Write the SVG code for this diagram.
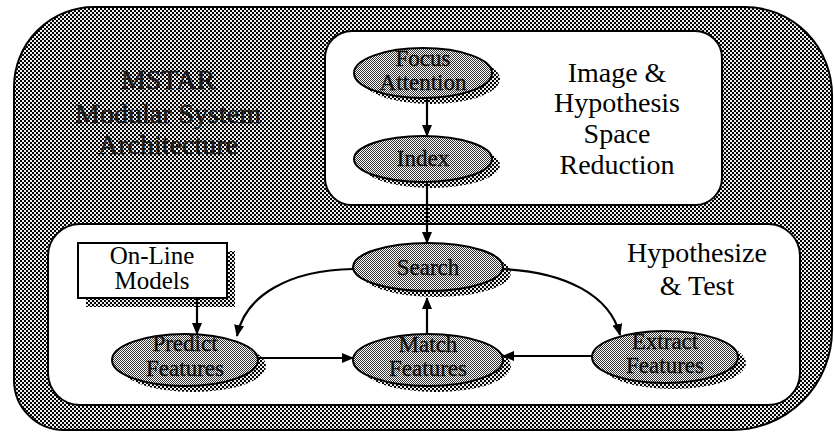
<svg xmlns="http://www.w3.org/2000/svg" width="834" height="433" viewBox="0 0 834 433">
<defs>
<pattern id="outerPat" width="4" height="4" patternUnits="userSpaceOnUse">
<rect width="4" height="4" fill="#eee"/>
<rect width="2" height="2" fill="#000"/>
<rect x="2" y="2" width="2" height="2" fill="#000"/>
</pattern>
<pattern id="ellPat" width="2" height="2" patternUnits="userSpaceOnUse">
<rect width="2" height="2" fill="#fff"/>
<rect width="1" height="1" fill="#333"/>
<rect x="1" y="1" width="1" height="1" fill="#333"/>
</pattern>
<marker id="arr" markerWidth="12" markerHeight="10" refX="11" refY="5" orient="auto" markerUnits="userSpaceOnUse">
<path d="M0,0 L12,5 L0,10 Z" fill="#000"/>
</marker>
</defs>
<style>
.ell{fill:url(#ellPat);stroke:#000;stroke-width:2}
.shd{fill:url(#outerPat)}
.lbl{font-family:"Liberation Serif","Times New Roman",serif;font-size:23px;fill:#111;stroke:#111;stroke-width:0.4;text-anchor:middle}
.big{font-family:"Liberation Serif","Times New Roman",serif;font-size:28px;fill:#000;text-anchor:middle}
.dim{fill:#1a1a1a;stroke:#1a1a1a;stroke-width:0.5}
.conn{fill:none;stroke:#000;stroke-width:2.2;marker-end:url(#arr)}
</style>
<g id="outer">
<path d="M94,7 H745 A87,88 0 0 1 832,95 V330 A100,100 0 0 1 732,430 H64 A50,50 0 0 1 14,380 V87 A80,80 0 0 1 94,7 Z" fill="url(#outerPat)" stroke="#000" stroke-width="2"/>
<text class="big dim" x="168" y="89">MSTAR</text>
<text class="big dim" x="168" y="123">Modular System</text>
<text class="big dim" x="168" y="154">Architecture</text>
</g>
<g id="reduction-box">
<rect x="325" y="31" width="397" height="174" rx="27" fill="#fff" stroke="#000" stroke-width="2"/>
<text class="big" x="617" y="82">Image &amp;</text>
<text class="big" x="617" y="112">Hypothesis</text>
<text class="big" x="617" y="143">Space</text>
<text class="big" x="617" y="174">Reduction</text>
</g>
<g id="test-box">
<rect x="48" y="224" width="752" height="181" rx="32" fill="#fff" stroke="#000" stroke-width="2"/>
<text class="big" x="697" y="262">Hypothesize</text>
<text class="big" x="697" y="295">&amp; Test</text>
</g>
<g id="focus-attention">
<ellipse class="shd" cx="431" cy="79" rx="69" ry="25"/>
<ellipse class="ell" cx="423" cy="73" rx="69" ry="25"/>
<text class="lbl" x="423" y="66">Focus</text>
<text class="lbl" x="423" y="90">Attention</text>
</g>
<g id="index">
<ellipse class="shd" cx="431" cy="165" rx="69" ry="23"/>
<ellipse class="ell" cx="423" cy="159" rx="69" ry="23"/>
<text class="lbl" x="423" y="166">Index</text>
</g>
<g id="search">
<ellipse class="shd" cx="436" cy="273" rx="75" ry="24"/>
<ellipse class="ell" cx="428" cy="267" rx="75" ry="24"/>
<text class="lbl" x="428" y="275">Search</text>
</g>
<g id="online-models">
<rect x="86" y="251" width="149" height="56" class="shd"/>
<rect x="78" y="243" width="149" height="55" fill="#fff" stroke="#000" stroke-width="2"/>
<text x="152" y="264" style="font-family:'Liberation Serif',serif;font-size:25px;text-anchor:middle">On-Line</text>
<text x="152" y="289" style="font-family:'Liberation Serif',serif;font-size:25px;text-anchor:middle">Models</text>
</g>
<g id="predict-features">
<ellipse class="shd" cx="193" cy="366" rx="73" ry="26"/>
<ellipse class="ell" cx="185" cy="360" rx="73" ry="26"/>
<text class="lbl" x="185" y="351">Predict</text>
<text class="lbl" x="185" y="376">Features</text>
</g>
<g id="match-features">
<ellipse class="shd" cx="436" cy="366" rx="75" ry="26"/>
<ellipse class="ell" cx="428" cy="360" rx="75" ry="26"/>
<text class="lbl" x="428" y="352">Match</text>
<text class="lbl" x="428" y="376">Features</text>
</g>
<g id="extract-features">
<ellipse class="shd" cx="673" cy="363" rx="73" ry="26"/>
<ellipse class="ell" cx="665" cy="357" rx="73" ry="26"/>
<text class="lbl" x="665" y="349">Extract</text>
<text class="lbl" x="665" y="373">Features</text>
</g>
<g id="connectors">
<path class="conn" d="M427,98 V136"/>
<path class="conn" d="M427,182 V243"/>
<path class="conn" d="M197,298 V334"/>
<path class="conn" d="M353,269 C290,270 245,295 237,336"/>
<path class="conn" d="M503,269 C565,272 610,295 620,335"/>
<path class="conn" d="M258,358 H353"/>
<path class="conn" d="M593,356 H503"/>
<path class="conn" d="M427,334 V298"/>
</g>
</svg>
